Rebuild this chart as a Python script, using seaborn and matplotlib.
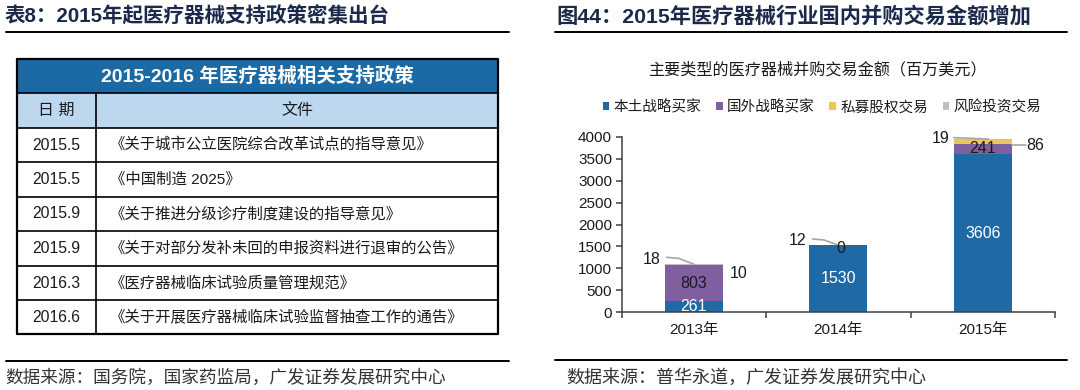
import numpy as np
import matplotlib
matplotlib.use("Agg")
import matplotlib.pyplot as plt
from matplotlib.patches import Rectangle, Patch
import seaborn as sns

# Data
years = ["2013年", "2014年", "2015年"]
domestic = [261, 1530, 3606]     # 本土战略买家
foreign = [803, 0, 241]          # 国外战略买家
private_eq = [10, 0, 86]         # 私募股权交易
venture = [18, 12, 19]           # 风险投资交易
series_names = ["本土战略买家", "国外战略买家", "私募股权交易", "风险投资交易"]
series_colors = ["#1F6AA5", "#7F5FA0", "#E8C85A", "#BFBFBF"]
y_ticks = [0, 500, 1000, 1500, 2000, 2500, 3000, 3500, 4000]

policy_dates = ["2015.5", "2015.5", "2015.9", "2015.9", "2016.3", "2016.6"]
policy_docs = [
    "《关于城市公立医院综合改革试点的指导意见》",
    "《中国制造 2025》",
    "《关于推进分级诊疗制度建设的指导意见》",
    "《关于对部分发补未回的申报资料进行退审的公告》",
    "《医疗器械临床试验质量管理规范》",
    "《关于开展医疗器械临床试验监督抽查工作的通告》",
]

sns.set_style("ticks")
plt.rcParams["font.family"] = ["Liberation Sans", "Noto Sans CJK SC", "DejaVu Sans"]

W, H = 1080, 390
fig = plt.figure(figsize=(W / 100, H / 100), dpi=100)

# background layer in pixel coordinates
bg = fig.add_axes([0, 0, 1, 1])
bg.set_xlim(0, W)
bg.set_ylim(H, 0)
bg.axis("off")

title_color = "#1B2A4A"
src_color = "#333333"

# Left panel: titles and table
bg.text(5, 16, "表8：2015年起医疗器械支持政策密集出台", fontsize=14.8,
        fontweight="bold", color=title_color, va="center", ha="left")
bg.plot([6, 509], [32, 32], color="black", lw=1.4)

tx0, tx1, col_x = 17, 498, 96
bg.add_patch(Rectangle((tx0, 59), tx1 - tx0, 34, facecolor="#1C6AA4", edgecolor="none"))
bg.add_patch(Rectangle((tx0, 93), tx1 - tx0, 35, facecolor="#BDD7EE", edgecolor="none"))
row_y = [128, 162, 197, 231, 266, 300, 334]
for y in [93] + row_y:
    bg.plot([tx0, tx1], [y, y], color="black", lw=1.2)
bg.plot([tx0, tx1, tx1, tx0, tx0], [59, 59, 334, 334, 59], color="black", lw=1.6)
bg.plot([col_x, col_x], [93, 334], color="black", lw=1.2)

bg.text((tx0 + tx1) / 2, 76, "2015-2016 年医疗器械相关支持政策", fontsize=14,
        fontweight="bold", color="white", ha="center", va="center")
bg.text((tx0 + col_x) / 2, 110.5, "日 期", fontsize=11.5, color="#1a1a1a",
        ha="center", va="center")
bg.text((col_x + tx1) / 2, 110.5, "文件", fontsize=11.5, color="#1a1a1a",
        ha="center", va="center")
for i, (d, doc) in enumerate(zip(policy_dates, policy_docs)):
    yc = (row_y[i] + row_y[i + 1]) / 2
    bg.text((tx0 + col_x) / 2, yc, d, fontsize=11.3, color="#1a1a1a", ha="center", va="center")
    bg.text(110, yc, doc, fontsize=11.1, color="#1a1a1a", ha="left", va="center")

bg.plot([6, 509], [361, 361], color="black", lw=1.4)
bg.text(5, 378, "数据来源：国务院，国家药监局，广发证券发展研究中心", fontsize=12.7,
        color=src_color, ha="left", va="center")

# Right panel: titles
bg.text(556, 16, "图44：2015年医疗器械行业国内并购交易金额增加", fontsize=15.3,
        fontweight="bold", color=title_color, va="center", ha="left")
bg.plot([555, 1067], [32, 32], color="black", lw=1.4)
bg.text(817, 70, "主要类型的医疗器械并购交易金额（百万美元）", fontsize=11.6,
        color="#1a1a1a", ha="center", va="center")
bg.plot([555, 1067], [360, 360], color="black", lw=1.4)
bg.text(566, 378, "数据来源：普华永道，广发证券发展研究中心", fontsize=13,
        color=src_color, ha="left", va="center")

# Stacked bar chart
ax = fig.add_axes([621.7 / W, (H - 312) / H, (1055 - 621.7) / W, 175 / H])
layers = [domestic, foreign, private_eq, venture]
cum = np.cumsum(np.array(layers), axis=0)
for k in reversed(range(len(layers))):
    sns.barplot(x=years, y=cum[k], color=series_colors[k], width=0.4,
                saturation=1, linewidth=0, errorbar=None, ax=ax)

ax.set_xlim(-0.5, 2.5)
ax.set_ylim(0, 4000)
ax.set_yticks(y_ticks)
ax.set_xlabel("")
ax.set_ylabel("")
ax.set_xticks([-0.5, 0.5, 1.5, 2.5], minor=True)
ax.tick_params(axis="x", which="major", length=0, labelsize=11, pad=8, colors="#1a1a1a")
ax.tick_params(axis="x", which="minor", length=4, width=1.1, color="#404040", direction="out")
ax.tick_params(axis="y", length=4, width=1.1, color="#404040", labelsize=11,
               labelcolor="#1a1a1a", pad=3)
sns.despine(ax=ax)
for s in ["left", "bottom"]:
    ax.spines[s].set_color("#404040")
    ax.spines[s].set_linewidth(1.1)

# Labels inside segments
for i in range(3):
    ax.text(i, domestic[i] / 2, str(domestic[i]), color="white", fontsize=11.5,
            ha="center", va="center")
ax.text(0, domestic[0] + foreign[0] / 2, str(foreign[0]), color="#1a1a1a", fontsize=11.5,
        ha="center", va="center")
ax.text(2, domestic[2] + foreign[2] / 2, str(foreign[2]), color="#1a1a1a", fontsize=11.5,
        ha="center", va="center")

# Small-segment labels with leader lines
lead = dict(color="#A6A6A6", lw=1.2, clip_on=False)
ax.plot([-0.19, -0.107, 0.0], [1250, 1227, cum[3][0]], **lead)
ax.text(-0.29, 1205, str(venture[0]), fontsize=11.5, color="#1a1a1a", ha="center", va="center")
ax.text(0.31, 885, str(private_eq[0]), fontsize=11.5, color="#1a1a1a", ha="center", va="center")
ax.plot([0.82, 0.90, 0.99], [1669, 1646, cum[3][1]], **lead)
ax.text(0.72, 1630, str(venture[1]), fontsize=11.5, color="#1a1a1a", ha="center", va="center")
ax.text(1.02, 1455, str(foreign[1]), fontsize=11.5, color="#1a1a1a", ha="center", va="center")
ax.plot([1.80, 1.88, 2.04], [3985, 3975, cum[3][2]], **lead)
ax.text(1.705, 3970, str(venture[2]), fontsize=11.5, color="#1a1a1a", ha="center", va="center")
ax.plot([2.2, 2.30], [3817, 3817], **lead)
ax.text(2.36, 3800, str(private_eq[2]), fontsize=11.5, color="#1a1a1a", ha="center", va="center")

# Legend
handles = [Patch(facecolor=c, edgecolor="none") for c in series_colors]
fig.legend(handles, series_names, loc="center", ncol=4, frameon=False,
           bbox_to_anchor=(822 / W, 1 - 107 / H), fontsize=10.5,
           handlelength=0.45, handleheight=0.45, handletextpad=0.3,
           columnspacing=1.0, labelcolor="#1a1a1a")

fig.savefig("out.png", dpi=100)
